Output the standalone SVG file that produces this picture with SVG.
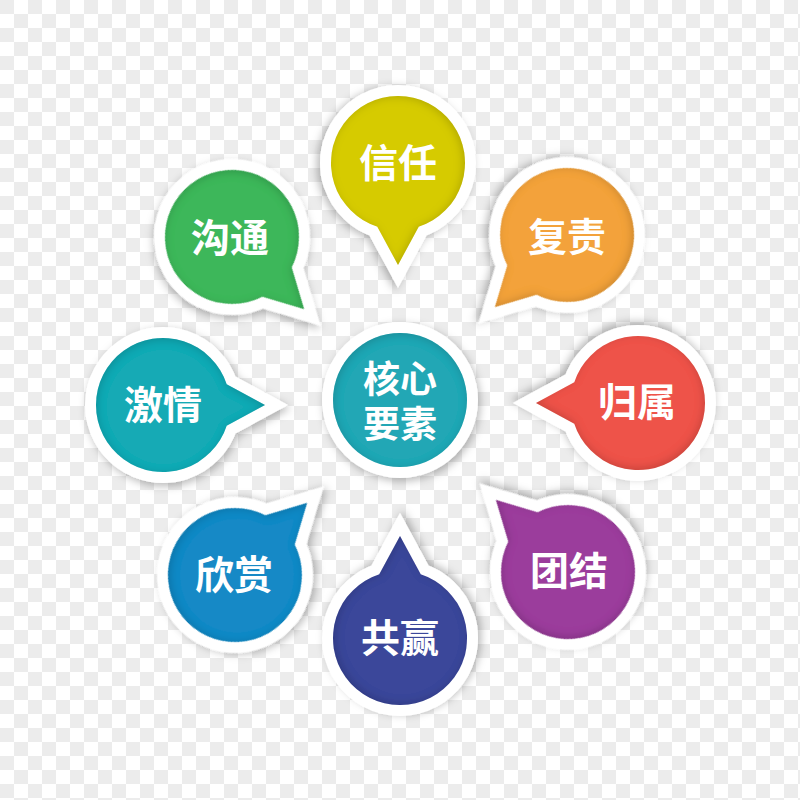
<svg xmlns="http://www.w3.org/2000/svg" xmlns:xlink="http://www.w3.org/1999/xlink" width="800" height="800" viewBox="0 0 800 800">
<defs>
<pattern id="checker" width="28" height="28" patternUnits="userSpaceOnUse">
<rect width="28" height="28" fill="#ffffff"/>
<rect x="0" y="0" width="14" height="14" fill="#ececec"/>
<rect x="14" y="14" width="14" height="14" fill="#ececec"/>
</pattern>
<filter id="drop" x="-30%" y="-30%" width="160%" height="160%">
<feDropShadow dx="2" dy="3" stdDeviation="4" flood-color="#000" flood-opacity="0.28"/>
</filter>
<filter id="inner" x="-10%" y="-10%" width="120%" height="120%">
<feFlood flood-color="#000" flood-opacity="0.35" result="f"/>
<feComposite in="f" in2="SourceAlpha" operator="out" result="o"/>
<feGaussianBlur in="o" stdDeviation="4" result="b"/>
<feOffset in="b" dx="1" dy="2" result="bo"/>
<feComposite in="bo" in2="SourceAlpha" operator="in" result="s"/>
<feMerge><feMergeNode in="SourceGraphic"/><feMergeNode in="s"/></feMerge>
</filter>
<path id="bub" d="M63.7,-20.7 L102,0 L63.7,20.7 A67,67 0 1 1 63.7,-20.7 Z"/>
</defs>
<style>
.ring{fill:#ffffff;stroke:#ffffff;stroke-width:22;stroke-linejoin:miter;stroke-miterlimit:6}
.lbl{font-family:"Noto Sans CJK SC","Noto Sans",sans-serif;font-weight:700;font-size:39px;fill:#ffffff;text-anchor:middle}
.core{font-size:37px}
</style>
<rect width="800" height="800" fill="url(#checker)"/>

<g id="node-xinren">
<use xlink:href="#bub" class="ring" filter="url(#drop)" transform="translate(398,163) rotate(90)"/>
<use xlink:href="#bub" fill="#d6cb00" filter="url(#inner)" transform="translate(398,163) rotate(90)"/>
<text class="lbl" x="398" y="177">信任</text>
</g>

<g id="node-fuze">
<use xlink:href="#bub" class="ring" filter="url(#drop)" transform="translate(567,235) rotate(135)"/>
<use xlink:href="#bub" fill="#f3a23a" filter="url(#inner)" transform="translate(567,235) rotate(135)"/>
<text class="lbl" x="567" y="251">复责</text>
</g>

<g id="node-guishu">
<use xlink:href="#bub" class="ring" filter="url(#drop)" transform="translate(638,403) rotate(180)"/>
<use xlink:href="#bub" fill="#ee5349" filter="url(#inner)" transform="translate(638,403) rotate(180)"/>
<text class="lbl" x="637" y="416">归属</text>
</g>

<g id="node-tuanjie">
<use xlink:href="#bub" class="ring" filter="url(#drop)" transform="translate(568,572) rotate(225)"/>
<use xlink:href="#bub" fill="#9b3e9c" filter="url(#inner)" transform="translate(568,572) rotate(225)"/>
<text class="lbl" x="569" y="585">团结</text>
</g>

<g id="node-gongying">
<use xlink:href="#bub" class="ring" filter="url(#drop)" transform="translate(400,638) rotate(270)"/>
<use xlink:href="#bub" fill="#3b469a" filter="url(#inner)" transform="translate(400,638) rotate(270)"/>
<text class="lbl" x="400" y="652">共赢</text>
</g>

<g id="node-xinshang">
<use xlink:href="#bub" class="ring" filter="url(#drop)" transform="translate(235,575) rotate(-45)"/>
<use xlink:href="#bub" fill="#1789c6" filter="url(#inner)" transform="translate(235,575) rotate(-45)"/>
<text class="lbl" x="234" y="589">欣赏</text>
</g>

<g id="node-jiqing">
<use xlink:href="#bub" class="ring" filter="url(#drop)" transform="translate(163,405) rotate(0)"/>
<use xlink:href="#bub" fill="#17aab5" filter="url(#inner)" transform="translate(163,405) rotate(0)"/>
<text class="lbl" x="163" y="419">激情</text>
</g>

<g id="node-goutong">
<use xlink:href="#bub" class="ring" filter="url(#drop)" transform="translate(232,237) rotate(45)"/>
<use xlink:href="#bub" fill="#3db75a" filter="url(#inner)" transform="translate(232,237) rotate(45)"/>
<text class="lbl" x="230" y="252">沟通</text>
</g>

<g id="node-core">
<circle cx="400" cy="400" r="67" class="ring" filter="url(#drop)"/>
<circle cx="400" cy="400" r="67" fill="#20a7b5" filter="url(#inner)"/>
<text class="lbl core"><tspan x="400" y="393">核心</tspan><tspan x="400" y="438">要素</tspan></text>
</g>
</svg>
